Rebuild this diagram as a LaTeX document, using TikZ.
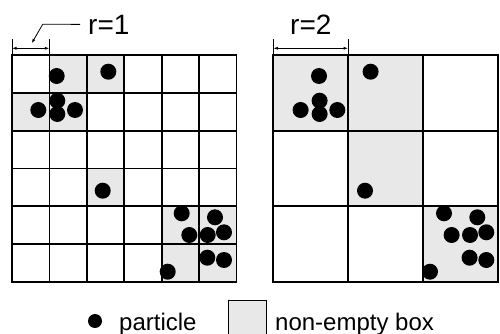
\documentclass[tikz,border=0pt]{standalone}
\usepackage{fontspec}
\setmainfont{Liberation Sans}
\usetikzlibrary{arrows.meta,positioning,calc}

\begin{document}
\begin{tikzpicture}[
    x=1pt, y=-1pt,
    >=Latex,
    % --- styles ---
    gridline/.style = {line width=1.8pt, line cap=rect},
    filled/.style   = {fill=black!9},
    particle/.style = {fill=black},
    dimline/.style  = {{Latex[length=4.5pt,width=3pt]}-{Latex[length=4.5pt,width=3pt]},
                       line width=0.8pt},
    thinline/.style = {line width=0.8pt},
    rlabel/.style   = {font=\fontsize{28}{32}\selectfont, inner sep=0pt, anchor=base west},
    legtext/.style  = {font=\fontsize{24}{28}\selectfont, inner sep=0pt, anchor=base west},
]

\useasboundingbox (0,0) rectangle (500,334);

%============ NON-EMPTY BOXES (background) ============
% r=1 grid, cell 37.4 x 37.8
\foreach \c/\r in {1/0, 2/0, 0/1, 1/1, 2/3, 4/4, 5/4, 4/5, 5/5}
  \fill[filled] ({12+\c*37.4},{55+\r*37.8}) rectangle ++(37.4,37.8);

% r=2 grid, cell 74.8 x 75.6
\foreach \c/\r in {0/0, 1/0, 1/1, 2/2}
  \fill[filled] ({273.3+\c*74.8},{55+\r*75.6}) rectangle ++(74.8,75.6);

%============ GRID LINES ============
\foreach \i in {0,...,6} {
  \draw[gridline] ({12+\i*37.4},55) -- ({12+\i*37.4},281.8);
  \draw[gridline] (12,{55+\i*37.8}) -- (236.4,{55+\i*37.8});
}
\foreach \i in {0,...,3} {
  \draw[gridline] ({273.3+\i*74.8},55) -- ({273.3+\i*74.8},281.8);
  \draw[gridline] (273.3,{55+\i*75.6}) -- (497.7,{55+\i*75.6});
}

%============ PARTICLES (same set in both grids) ============
\foreach \px/\py in {
  56.7/76, 108.3/71.7, 38.3/110, 57.3/100.7, 57.3/114, 75/110,
  102.7/190.7, 181.7/213.3, 189.3/235, 215/217.3, 207.7/235,
  224/232.3, 207.3/257.7, 224/260, 167.7/271.7} {
  \fill[particle] (\px,\py) circle (8);
  \fill[particle] ({\px+262.3},\py) circle (8);
}

%============ BOX SIZE MARKS ============
\coordinate (d1a) at (12,48.3);
\coordinate (d1b) at (49.4,48.3);
\coordinate (d2a) at (273.3,48.3);
\coordinate (d2b) at (348.1,48.3);

\foreach \d in {d1a, d1b, d2a, d2b}
  \draw[thinline] ($(\d)+(0,-9)$) -- ($(\d)+(0,6.7)$);

\draw[dimline] (d1a) -- (d1b);
\draw[dimline] (d2a) -- (d2b);

\node (r1) [rlabel] at (88,35) {r=1};
\node (r2) [rlabel] at (290,35) {r=2};

% leader from r=1 down to its mark
\coordinate (bend) at (42.7,24.3);
\coordinate (tip)  at (31.7,43.3);
\draw[thinline, -{Latex[length=4.5pt,width=3pt]}]
  ($(r1.west)+(-8,-1)$) -- (bend) -- (tip);

%============ LEGEND ============
\node (legdot) [circle, fill=black, inner sep=0pt, minimum size=14pt] at (95,321) {};
\node (legdottxt) [legtext] at (119,330) {particle};

\node (legbox) [draw, thinline, filled, anchor=north west,
                minimum width=38pt, minimum height=42pt] at (228,300) {};
\node (legboxtxt) [legtext] at (275,330) {non-empty box};

\end{tikzpicture}
\end{document}
